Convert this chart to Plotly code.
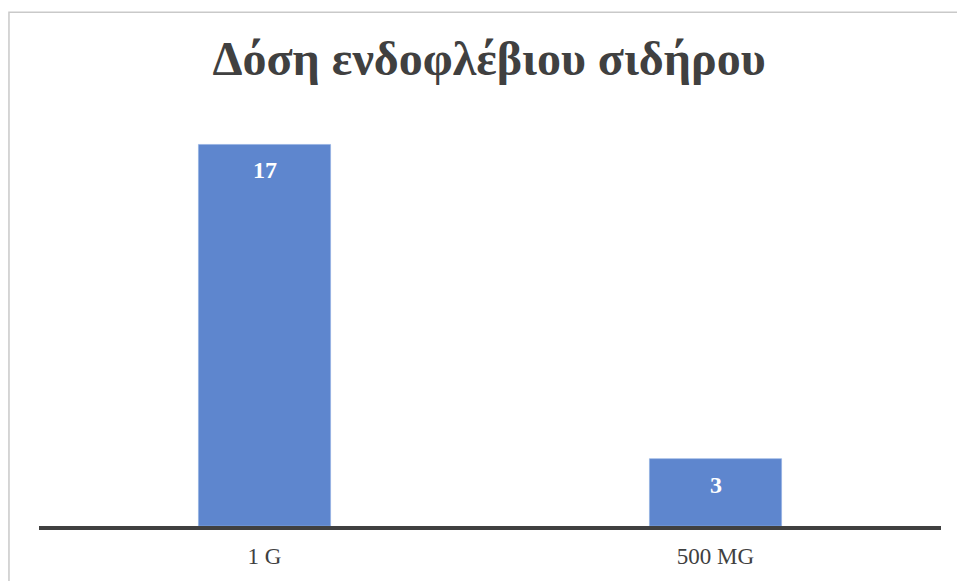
import plotly.graph_objects as go

# Intravenous iron dose categories and patient counts
categories = ["1 G", "500 MG"]
counts = [17, 3]

title_text = "Δόση ενδοφλέβιου σιδήρου"
bar_color = "#5E86CE"
text_color = "#404040"
serif = "Liberation Serif, Times New Roman, serif"

fig = go.Figure()
fig.add_trace(
    go.Bar(
        x=categories,
        y=counts,
        width=[0.293] * len(categories),
        marker=dict(color=bar_color, line=dict(color="#8FAEE3", width=0.6)),
        hoverinfo="x+y",
    )
)

# Value labels placed just inside the top of each bar
for cat, val in zip(categories, counts):
    fig.add_annotation(
        x=cat, y=val, text=f"<b>{val}</b>", showarrow=False,
        yanchor="middle", yshift=-26,
        font=dict(family=serif, size=24, color="white"),
    )

# Light outer frame of the chart area
fig.add_shape(
    type="rect", xref="paper", yref="paper",
    x0=-0.0333, x1=1.2, y0=-0.3, y1=1.2716,
    line=dict(color="#C9C9C9", width=1.5), fillcolor="rgba(0,0,0,0)",
    layer="below",
)

fig.update_layout(
    width=957, height=581,
    margin=dict(l=39, r=16, t=122, b=53),
    paper_bgcolor="white", plot_bgcolor="white",
    showlegend=False,
    title=dict(
        text=f"<b>{title_text}</b>",
        x=0.511, xanchor="center", y=0.899, yanchor="middle",
        font=dict(family=serif, size=48, color=text_color),
    ),
    xaxis=dict(
        showline=True, linecolor=text_color, linewidth=4,
        showgrid=False, ticks="", zeroline=False,
        tickfont=dict(family=serif, size=23, color=text_color),
        ticklabelstandoff=6,
        fixedrange=True,
    ),
    yaxis=dict(
        range=[0, 18], showgrid=False, showticklabels=False,
        zeroline=False, showline=False, ticks="", fixedrange=True,
    ),
)

fig.write_html("out.html")
